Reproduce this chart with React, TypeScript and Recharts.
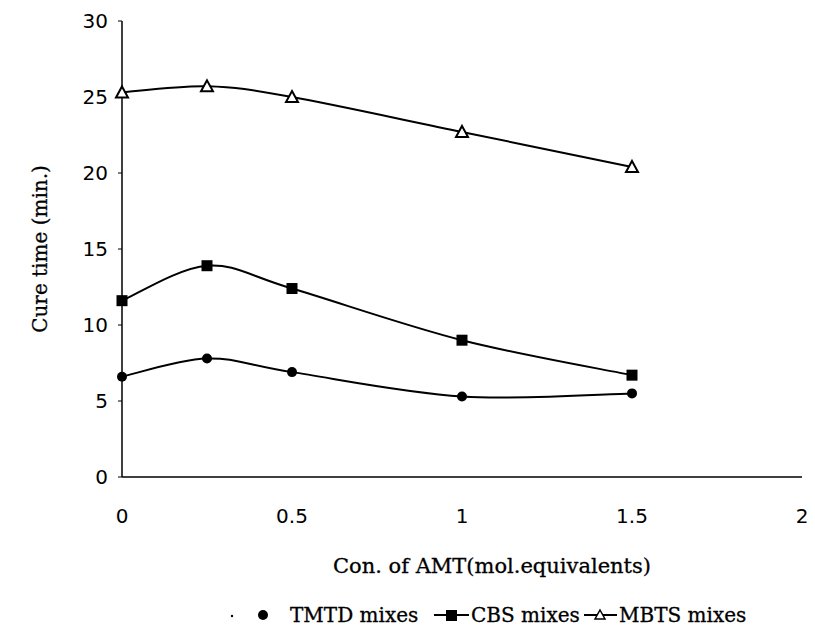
import React from "react";
import { LineChart, Line, XAxis, YAxis, Legend, Label } from "recharts";

const concentrations = [0, 0.25, 0.5, 1, 1.5];
const tmtdValues = [6.6, 7.8, 6.9, 5.3, 5.5];
const cbsValues = [11.6, 13.9, 12.4, 9.0, 6.7];
const mbtsValues = [25.3, 25.7, 25.0, 22.7, 20.4];
const xTicks = [0, 0.5, 1, 1.5, 2];
const yTicks = [0, 5, 10, 15, 20, 25, 30];
const seriesNames = ["TMTD mixes", "CBS mixes", "MBTS mixes"];

const data = concentrations.map((c, i) => ({
  x: c,
  tmtd: tmtdValues[i],
  cbs: cbsValues[i],
  mbts: mbtsValues[i],
}));

const SERIF = "'DejaVu Serif', serif";
const SANS = "'DejaVu Sans', sans-serif";

const excelCurve = (context: any) => {
  let pts: number[][] = [];
  return {
    areaStart() {},
    areaEnd() {},
    lineStart() {
      pts = [];
    },
    point(x: number, y: number) {
      pts.push([+x, +y]);
    },
    lineEnd() {
      if (!pts.length) return;
      context.moveTo(pts[0][0], pts[0][1]);
      for (let i = 0; i < pts.length - 1; i++) {
        const p0 = pts[Math.max(i - 1, 0)];
        const p1 = pts[i];
        const p2 = pts[i + 1];
        const p3 = pts[Math.min(i + 2, pts.length - 1)];
        context.bezierCurveTo(
          p1[0] + (p2[0] - p0[0]) / 6,
          p1[1] + (p2[1] - p0[1]) / 6,
          p2[0] - (p3[0] - p1[0]) / 6,
          p2[1] - (p3[1] - p1[1]) / 6,
          p2[0],
          p2[1]
        );
      }
    },
  };
};

const CircleDot = (props: any) => {
  const { cx, cy, index } = props;
  return <circle key={`c${index}`} cx={cx} cy={cy} r={5} fill="#000" />;
};
const SquareDot = (props: any) => {
  const { cx, cy, index } = props;
  return <rect key={`s${index}`} x={cx - 5.5} y={cy - 5.5} width={11} height={11} fill="#000" />;
};
const TriangleDot = (props: any) => {
  const { cx, cy, index } = props;
  return (
    <path
      key={`t${index}`}
      d={`M${cx},${cy - 6} L${cx + 6},${cy + 5} L${cx - 6},${cy + 5} Z`}
      fill="#fff"
      stroke="#000"
      strokeWidth={2}
    />
  );
};

const LegendContent = () => (
  <svg width={815} height={40} style={{ display: "block" }}>
    <g fontFamily={SERIF} fontSize={20} fill="#000">
      <circle cx={232} cy={21} r={1.2} fill="#000" />
      <circle cx={263} cy={20} r={5} fill="#000" />
      <text x={290} y={27} stroke="#000" strokeWidth={0.3}>{seriesNames[0]}</text>
      <line x1={434} x2={469} y1={20} y2={20} stroke="#000" strokeWidth={2} />
      <rect x={446} y={15} width={11} height={11} fill="#000" />
      <text x={471} y={27} stroke="#000" strokeWidth={0.3}>{seriesNames[1]}</text>
      <line x1={584} x2={617} y1={20} y2={20} stroke="#000" strokeWidth={2} />
      <path d="M600,15 L605,24 L595,24 Z" fill="#fff" stroke="#000" strokeWidth={1.5} />
      <text x={619} y={27} stroke="#000" strokeWidth={0.3}>{seriesNames[2]}</text>
    </g>
  </svg>
);

const tickStyle = { fill: "#000", fontSize: 20, fontFamily: SANS };

export default function App() {
  return (
    <div style={{ position: "absolute", left: 0, top: 0, background: "#fff" }}>
      <LineChart
        width={815}
        height={637}
        data={data}
        margin={{ top: 21, right: 13, left: 0, bottom: 2 }}
      >
        <XAxis
          dataKey="x"
          type="number"
          domain={[0, 2]}
          ticks={xTicks}
          height={118}
          tickLine={false}
          tickMargin={26}
          axisLine={{ stroke: "#000", strokeWidth: 1.5 }}
          tick={tickStyle}
        >
          <Label
            value="Con. of AMT(mol.equivalents)"
            position="insideBottom"
            offset={22}
            dx={30}
            style={{ fill: "#000", fontSize: 21, fontFamily: SERIF, stroke: "#000", strokeWidth: 0.3 }}
          />
        </XAxis>
        <XAxis
          xAxisId="top"
          dataKey="x"
          type="number"
          domain={[0, 2]}
          orientation="top"
          height={0}
          tick={false}
          tickLine={false}
          axisLine={{ stroke: "#000", strokeWidth: 1.5 }}
        />
        <YAxis
          type="number"
          domain={[0, 30]}
          ticks={yTicks}
          width={122}
          tickSize={4}
          tickMargin={10}
          tickLine={{ stroke: "#000" }}
          axisLine={{ stroke: "#000", strokeWidth: 1.5 }}
          tick={tickStyle}
        >
          <Label
            content={(p: any) => {
              const vb = p.viewBox || {};
              const cy = vb.y + vb.height / 2;
              return (
                <text
                  x={40}
                  y={cy}
                  transform={`rotate(-90, 40, ${cy})`}
                  textAnchor="middle"
                  dominantBaseline="central"
                  fontFamily={SERIF}
                  fontSize={20}
                  fill="#000"
                  stroke="#000"
                  strokeWidth={0.3}
                >
                  Cure time (min.)
                </text>
              );
            }}
          />
        </YAxis>
        <YAxis
          yAxisId="right"
          orientation="right"
          type="number"
          domain={[0, 30]}
          width={0}
          tick={false}
          tickLine={false}
          axisLine={{ stroke: "#000", strokeWidth: 1.5 }}
        />
        <Legend verticalAlign="bottom" height={40} content={LegendContent} />
        <Line
          dataKey="tmtd"
          name={seriesNames[0]}
          type={excelCurve as any}
          stroke="#000"
          strokeWidth={2}
          dot={CircleDot}
          activeDot={false}
          isAnimationActive={false}
        />
        <Line
          dataKey="cbs"
          name={seriesNames[1]}
          type={excelCurve as any}
          stroke="#000"
          strokeWidth={2}
          dot={SquareDot}
          activeDot={false}
          isAnimationActive={false}
        />
        <Line
          dataKey="mbts"
          name={seriesNames[2]}
          type={excelCurve as any}
          stroke="#000"
          strokeWidth={2}
          dot={TriangleDot}
          activeDot={false}
          isAnimationActive={false}
        />
      </LineChart>
    </div>
  );
}
